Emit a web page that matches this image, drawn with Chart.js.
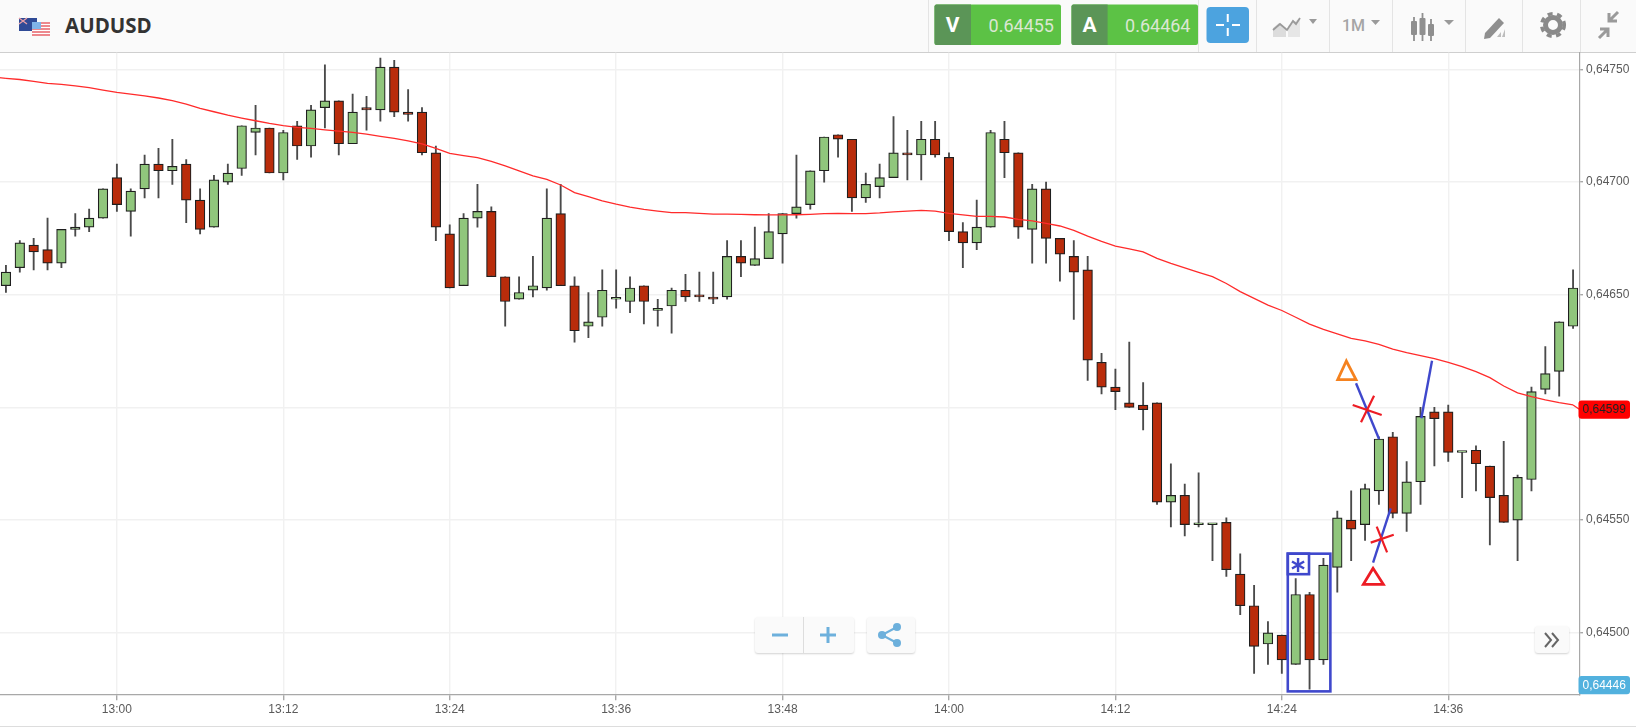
<!DOCTYPE html>
<html>
<head>
<meta charset="utf-8">
<title>AUDUSD</title>
<script src="https://cdn.jsdelivr.net/npm/chart.js@4/dist/chart.umd.js"></script>
<style>
  html, body { margin: 0; padding: 0; width: 1636px; height: 728px; overflow: hidden; background: #fff; }
  #myChart { position: absolute; left: -1px; top: 52px; }
  #header { position: absolute; left: 0; top: 0; }
  #bottomLine { position: absolute; left: 0; top: 726px; width: 1636px; height: 1px; background: #ddd; }
  .btn { position: absolute; background: #fafafa; border-radius: 3px; box-shadow: 0 1px 2px rgba(0, 0, 0, 0.18); }
</style>
</head>
<body>
<svg id="header" width="1636" height="53" font-family="Roboto, 'Open Sans', sans-serif">
  <rect width="1636" height="52" fill="#fafafa"/>
  <rect y="52" width="1636" height="1.3" fill="#cfcfcf"/>
  <!-- flags -->
  <rect x="19" y="18" width="18" height="13" fill="#2f4a96"/>
  <path d="M19 18l8 6M27 18l-8 6" stroke="#e8a0a8" stroke-width="1.3"/>
  <circle cx="33" cy="27" r="1" fill="#fff"/>
  <rect x="32" y="22" width="18" height="13.5" fill="#fff"/>
  <path d="M32 23h18M32 26h18M32 29h18M32 32h18M32 35h18" stroke="#e8636a" stroke-width="1.5"/>
  <rect x="32" y="22" width="9" height="7" fill="#7fb3e8"/>
  <text x="65" y="33" font-family="'Open Sans'" font-weight="700" font-size="20.5" fill="#333">AUDUSD</text>
  <!-- separators -->
  <path d="M928.5 0v52M1198.5 0v52M1256.5 0v52M1329.5 0v52M1392.5 0v52M1465.5 0v52M1522.5 0v52M1580.5 0v52" stroke="#e4e4e4"/>
  <!-- prices -->
  <rect x="934.5" y="4.5" width="126.5" height="40.5" rx="2" fill="#5cc245"/>
  <path d="M936.5 4.5H971V45H936.5a2 2 0 0 1-2-2V6.500a2 2 0 0 1 2-2z" fill="#5b9557"/>
  <text x="952.500" y="32" text-anchor="middle" font-weight="700" font-size="21" fill="#fff">V</text>
  <text x="1054" y="31.500" text-anchor="end" font-size="18" fill="#dbe7d3">0.64455</text>
  <rect x="1071.5" y="4.5" width="126.5" height="40.5" rx="2" fill="#5cc245"/>
  <path d="M1073.5 4.5H1107.6V45H1073.5a2 2 0 0 1-2-2V6.500a2 2 0 0 1 2-2z" fill="#5b9557"/>
  <text x="1089.5" y="32" text-anchor="middle" font-weight="700" font-size="21" fill="#fff">A</text>
  <text x="1190.5" y="31.500" text-anchor="end" font-size="18" fill="#dbe7d3">0.64464</text>
  <!-- crosshair button -->
  <rect x="1206.5" y="7" width="42.500" height="36" rx="4" fill="#4ca3df"/>
  <path d="M1227.75 14v8M1227.75 28v8M1216 25h8M1232 25h8" stroke="#fff" stroke-width="2"/>
  <!-- chart type -->
  <path d="M1273 37V28l6-5 7 5v9z" fill="#dcdcdc"/>
  <path d="M1288 37V26l12-8v19z" fill="#e6e6e6"/>
  <path d="M1273 30l7-6 7 6 6-9 3 3 4-6" fill="none" stroke="#9a9a9a" stroke-width="1.8"/>
  <path d="M1309 19h8l-4 5z" fill="#9a9a9a"/>
  <!-- period -->
  <text x="1342" y="31" font-size="16" font-weight="500" fill="#a5a5a5">1M</text>
  <path d="M1371 20h9l-4.500 5z" fill="#9a9a9a"/>
  <!-- candles -->
  <path d="M1414 17v24M1422.500 13v28M1431 19v22" stroke="#8f8f8f" stroke-width="1.800"/>
  <rect x="1411" y="21" width="6" height="14" rx="1" fill="#8f8f8f"/>
  <rect x="1419.5" y="18" width="6" height="17" rx="1" fill="#8f8f8f"/>
  <rect x="1428" y="24" width="6" height="12" rx="1" fill="#8f8f8f"/>
  <path d="M1444 20h10l-5 5z" fill="#9a9a9a"/>
  <!-- draw tool -->
  <path d="M1485 33l14-15 5 5-14 15-6 1z" fill="#8f8f8f"/>
  <path d="M1497 37l4-5v5zM1502 37l3-8v8z" fill="#bdbdbd"/>
  <!-- gear -->
  <circle cx="1553" cy="25" r="7.500" fill="none" stroke="#8a8a8a" stroke-width="5"/>
  <circle cx="1553" cy="25" r="11.300" fill="none" stroke="#8a8a8a" stroke-width="3.500" stroke-dasharray="5 4.500"/>
  <!-- compress -->
  <path d="M1609 21l9-9M1609 13v8h8M1608 29l-9 9M1608 37v-8h-8" fill="none" stroke="#9a9a9a" stroke-width="3"/>
</svg>
<canvas id="myChart" width="1637" height="674"></canvas>
<div id="bottomLine"></div>

<!-- Zoom and share buttons -->
<div class="btn" style="left:755px;top:617px;width:99px;height:36px"></div>
<div class="btn" style="left:867px;top:617px;width:48px;height:36px"></div>
<div class="btn" style="left:1535px;top:626px;width:34px;height:27px"></div>
<svg style="position:absolute;left:0;top:600px" width="1636" height="60">
  <path d="M803.5 17v36" stroke="#ddd"/>
  <path d="M772 35h16M820 35h16M828 27v16" stroke="#6db0dc" stroke-width="3"/>
  <circle cx="882" cy="35" r="4" fill="#6db0dc"/>
  <circle cx="897" cy="27" r="4" fill="#6db0dc"/>
  <circle cx="897" cy="43" r="4" fill="#6db0dc"/>
  <path d="M882 35l15-8M882 35l15 8" stroke="#6db0dc" stroke-width="2"/>
  <path d="M1545 33l6 7-6 7M1552 33l6 7-6 7" fill="none" stroke="#666" stroke-width="2"/>
</svg>

<script>
// Candle times, one per minute.
const times = [
  '12:52', '12:53', '12:54', '12:55', '12:56', '12:57', '12:58', '12:59',
  '13:00', '13:01', '13:02', '13:03', '13:04', '13:05', '13:06', '13:07', '13:08', '13:09', '13:10', '13:11',
  '13:12', '13:13', '13:14', '13:15', '13:16', '13:17', '13:18', '13:19', '13:20', '13:21', '13:22', '13:23',
  '13:24', '13:25', '13:26', '13:27', '13:28', '13:29', '13:30', '13:31', '13:32', '13:33', '13:34', '13:35',
  '13:36', '13:37', '13:38', '13:39', '13:40', '13:41', '13:42', '13:43', '13:44', '13:45', '13:46', '13:47',
  '13:48', '13:49', '13:50', '13:51', '13:52', '13:53', '13:54', '13:55', '13:56', '13:57', '13:58', '13:59',
  '14:00', '14:01', '14:02', '14:03', '14:04', '14:05', '14:06', '14:07', '14:08', '14:09', '14:10', '14:11',
  '14:12', '14:13', '14:14', '14:15', '14:16', '14:17', '14:18', '14:19', '14:20', '14:21', '14:22', '14:23',
  '14:24', '14:25', '14:26', '14:27', '14:28', '14:29', '14:30', '14:31', '14:32', '14:33', '14:34', '14:35',
  '14:36', '14:37', '14:38', '14:39', '14:40', '14:41', '14:42', '14:43', '14:44', '14:45',
];

// Labels shown under the x axis.
const timeTicks = ['13:00', '13:12', '13:24', '13:36', '13:48', '14:00', '14:12', '14:24', '14:36'];

// Labels shown on the price axis.
const priceTicks = [0.6475, 0.647, 0.6465, 0.646, 0.6455, 0.645];

const opens = [
  0.64654, 0.64662, 0.64672, 0.6467, 0.64664, 0.64679, 0.6468, 0.64684, 0.64702, 0.64687,
  0.64697, 0.64708, 0.64705, 0.64708, 0.64692, 0.6468, 0.647, 0.64706, 0.64722, 0.64724,
  0.64704, 0.64725, 0.64716, 0.64733, 0.64736, 0.64717, 0.64733, 0.64732, 0.64751, 0.64731,
  0.64731, 0.64713, 0.64677, 0.64654, 0.64684, 0.64687, 0.64658, 0.64648, 0.64652, 0.64653,
  0.64686, 0.64654, 0.64636, 0.6464, 0.64648, 0.64647, 0.64654, 0.64643, 0.64645, 0.64652,
  0.6465, 0.64649, 0.64649, 0.64667, 0.64663, 0.64666, 0.64677, 0.64686, 0.6469, 0.64705,
  0.64721, 0.64719, 0.64693, 0.64698, 0.64702, 0.64713, 0.64712, 0.64719, 0.64711, 0.64678,
  0.64673, 0.6468, 0.64719, 0.64713, 0.64679, 0.64697, 0.64675, 0.64667, 0.64661, 0.6462,
  0.64609, 0.64602, 0.64601, 0.64602, 0.64558, 0.64561, 0.64548, 0.64548, 0.64549, 0.64526,
  0.64512, 0.64495, 0.64499, 0.64486, 0.64517, 0.64488, 0.64529, 0.6455, 0.64548, 0.64563,
  0.64587, 0.64553, 0.64567, 0.64598, 0.64598, 0.6458, 0.64581, 0.64574, 0.64561, 0.6455,
  0.64568, 0.64608, 0.64616, 0.64636,
];

const closes = [
  0.6466, 0.64673, 0.64669, 0.64664, 0.64679, 0.6468, 0.64684, 0.64697, 0.6469, 0.64696,
  0.64708, 0.64705, 0.64707, 0.64692, 0.64679, 0.64701, 0.64704, 0.64725, 0.64724, 0.64704,
  0.64722, 0.64716, 0.64732, 0.64736, 0.64717, 0.64731, 0.64732, 0.64751, 0.64731, 0.6473,
  0.64713, 0.6468, 0.64653, 0.64684, 0.64687, 0.64658, 0.64647, 0.64651, 0.64654, 0.64684,
  0.64654, 0.64634, 0.64638, 0.64652, 0.64648, 0.64653, 0.64647, 0.64644, 0.64652, 0.64649,
  0.64649, 0.64648, 0.64667, 0.64664, 0.64666, 0.64678, 0.64686, 0.64689, 0.64705, 0.6472,
  0.64719, 0.64693, 0.64699, 0.64702, 0.64713, 0.64712, 0.64719, 0.64712, 0.64678, 0.64673,
  0.6468, 0.64722, 0.64713, 0.6468, 0.64697, 0.64675, 0.64668, 0.6466, 0.64621, 0.64609,
  0.64607, 0.646, 0.64599, 0.64558, 0.64561, 0.64548, 0.64548, 0.64548, 0.64528, 0.64512,
  0.64494, 0.645, 0.64488, 0.64517, 0.64488, 0.6453, 0.64551, 0.64546, 0.64564, 0.64586,
  0.64553, 0.64567, 0.64596, 0.64595, 0.6458, 0.6458, 0.64575, 0.6456, 0.64549, 0.64569,
  0.64607, 0.64615, 0.64638, 0.64653,
];

const highs = [
  0.64663, 0.64674, 0.64675, 0.64684, 0.64679, 0.64686, 0.64688, 0.64697, 0.64708, 0.64697,
  0.64712, 0.64715, 0.64719, 0.6471, 0.64697, 0.64703, 0.64708, 0.64725, 0.64734, 0.64724,
  0.64723, 0.64727, 0.64734, 0.64752, 0.64736, 0.64739, 0.64738, 0.64755, 0.64754, 0.64741,
  0.64733, 0.64716, 0.64681, 0.64686, 0.64699, 0.64689, 0.64658, 0.64658, 0.64667, 0.64697,
  0.64699, 0.64658, 0.64651, 0.64661, 0.64661, 0.64658, 0.64654, 0.64648, 0.64653, 0.64659,
  0.6466, 0.6466, 0.64674, 0.64674, 0.6468, 0.64686, 0.64686, 0.64712, 0.64705, 0.6472,
  0.64721, 0.64719, 0.64704, 0.64708, 0.64729, 0.64723, 0.64727, 0.64727, 0.64713, 0.64682,
  0.64692, 0.64723, 0.64727, 0.64713, 0.64699, 0.647, 0.64675, 0.64674, 0.64667, 0.64624,
  0.64617, 0.64629, 0.64611, 0.64602, 0.64575, 0.64566, 0.64571, 0.64548, 0.64551, 0.64535,
  0.64521, 0.64505, 0.64499, 0.64524, 0.64518, 0.64533, 0.64554, 0.64563, 0.64566, 0.64587,
  0.64589, 0.64576, 0.646, 0.646, 0.64601, 0.6458, 0.64583, 0.64574, 0.64585, 0.6457,
  0.64609, 0.64627, 0.64638, 0.64661,
];

const lows = [
  0.64651, 0.6466, 0.64661, 0.64661, 0.64662, 0.64676, 0.64678, 0.64684, 0.64687, 0.64676,
  0.64693, 0.64693, 0.64699, 0.64682, 0.64677, 0.6468, 0.64699, 0.64703, 0.64712, 0.64704,
  0.64701, 0.6471, 0.64711, 0.64724, 0.64712, 0.64717, 0.64723, 0.64727, 0.64729, 0.64727,
  0.64712, 0.64674, 0.64653, 0.64654, 0.6468, 0.64658, 0.64636, 0.64648, 0.64649, 0.64652,
  0.64654, 0.64629, 0.64631, 0.64636, 0.64644, 0.64642, 0.64637, 0.64636, 0.64633, 0.64647,
  0.64647, 0.64646, 0.64648, 0.64658, 0.64663, 0.64666, 0.64664, 0.64684, 0.64688, 0.647,
  0.64711, 0.64687, 0.64691, 0.64693, 0.64702, 0.64701, 0.64701, 0.64711, 0.64674, 0.64662,
  0.6467, 0.6468, 0.64702, 0.64675, 0.64664, 0.64664, 0.64656, 0.64639, 0.64612, 0.64606,
  0.64599, 0.646, 0.6459, 0.64557, 0.64547, 0.64543, 0.64547, 0.64532, 0.64525, 0.64508,
  0.64482, 0.64486, 0.64482, 0.64486, 0.64475, 0.64486, 0.64518, 0.64532, 0.64541, 0.64557,
  0.64551, 0.64545, 0.64557, 0.64574, 0.64576, 0.6456, 0.64563, 0.64539, 0.64549, 0.64532,
  0.64563, 0.64606, 0.64605, 0.64635,
];

// Moving average line.
const movingAverage = [
  0.64746, 0.647455, 0.647447, 0.647438, 0.647433, 0.647427, 0.647419, 0.647408, 0.647398, 0.64739,
  0.647382, 0.647373, 0.647361, 0.647346, 0.647327, 0.647312, 0.647297, 0.647284, 0.647272, 0.64726,
  0.64725, 0.647243, 0.647238, 0.647232, 0.647226, 0.64722, 0.647213, 0.647203, 0.647194, 0.647183,
  0.647169, 0.647149, 0.647127, 0.647117, 0.647108, 0.647092, 0.647072, 0.64705, 0.647027, 0.647012,
  0.646987, 0.646953, 0.646935, 0.646917, 0.646902, 0.646889, 0.646879, 0.646871, 0.646864, 0.646864,
  0.646861, 0.646858, 0.646858, 0.646857, 0.646855, 0.646854, 0.646854, 0.646855, 0.646857, 0.64686,
  0.646861, 0.64686, 0.64686, 0.646863, 0.646868, 0.646871, 0.646874, 0.646871, 0.646861, 0.646854,
  0.646848, 0.646848, 0.646845, 0.646834, 0.646828, 0.646817, 0.646805, 0.646786, 0.64676, 0.646737,
  0.646716, 0.646703, 0.64669, 0.646661, 0.646639, 0.646619, 0.646599, 0.64658, 0.64655, 0.646514,
  0.646484, 0.646454, 0.64643, 0.6464, 0.64637, 0.646346, 0.646326, 0.646306, 0.646295, 0.64628,
  0.646259, 0.646243, 0.64623, 0.646216, 0.6462, 0.646181, 0.646159, 0.646132, 0.646095, 0.646065,
  0.646048, 0.646033, 0.646021, 0.646011,
];

// Moving average value at the left edge and the value it reaches at the price axis.
const maAtLeftEdge = 0.647463;
const maAtAxis = 0.64599;

// Lowest visible price badge, pinned to the bottom of the axis.
const lowestPrice = 0.64446;

// Hand drawn marks, as [candle index, price] pairs.
const blueSegments = [
  [[97.35, 0.646107], [99.01, 0.64586]],
  [[99.85, 0.645552], [98.58, 0.645311]],
  [[102.06, 0.645952], [102.83, 0.646207]],
];
const redCrosses = [
  [[97.11, 0.646011], [99.2, 0.645966]],
  [[98.65, 0.646052], [97.71, 0.645934]],
  [[98.41, 0.6454], [100.07, 0.645435]],
  [[98.84, 0.645471], [99.59, 0.645357]],
];
const orangeTriangle = [[96.65, 0.646206], [96.03, 0.646123], [97.35, 0.646123]];
const redTriangle = [[98.58, 0.645286], [97.88, 0.645215], [99.32, 0.645215]];
const signalBox = [[92.43, 0.645351], [95.5, 0.64474]];
const signalTag = [[92.43, 0.645351], [93.96, 0.64526]];
const signalStar = [93.17, 0.645301];

// Body and wick ranges for the floating bars.
const bodies = opens.map((open, i) => [open, closes[i]]);
const wicks = lows.map((low, i) => [low, highs[i]]);
const bodyColors = opens.map((open, i) => (closes[i] >= open ? '#90c67c' : '#b92c0b'));

Chart.defaults.font.family = "'Liberation Sans', Arial, sans-serif";
Chart.defaults.font.size = 12;
Chart.defaults.color = '#5a5a5a';

function priceLabel(value) {
  return value.toFixed(5).replace('.', ',');
}

// Draws a small rounded price badge on the axis.
function drawBadge(ctx, area, y, text, fill, textColor) {
  ctx.fillStyle = fill;
  ctx.beginPath();
  ctx.roundRect(area.right - 1.5, y - 9.2, 51.5, 18.4, 3);
  ctx.fill();
  ctx.fillStyle = textColor;
  ctx.textAlign = 'center';
  ctx.textBaseline = 'middle';
  ctx.font = "12px 'Liberation Sans'";
  ctx.fillText(text, area.right + 24.2, y + 0.5);
}

// Moving average ends, hand drawn marks and axis badges.
const overlayPlugin = {
  id: 'overlay',
  afterDatasetsDraw(chart) {
    const ctx = chart.ctx;
    const area = chart.chartArea;
    const xs = chart.scales.x;
    const ys = chart.scales.y;
    const px = (p) => [xs.getPixelForValue(p[0]), ys.getPixelForValue(p[1])];

    function stroke(points, color, width, closed) {
      ctx.strokeStyle = color;
      ctx.lineWidth = width;
      ctx.lineJoin = 'miter';
      ctx.beginPath();
      points.forEach((p, i) => {
        const q = px(p);
        if (i === 0) ctx.moveTo(q[0], q[1]);
        else ctx.lineTo(q[0], q[1]);
      });
      if (closed) ctx.closePath();
      ctx.stroke();
    }

    ctx.save();

    // Line runs on to both edges of the plot.
    ctx.strokeStyle = '#ff2b2b';
    ctx.lineWidth = 1.3;
    ctx.beginPath();
    ctx.moveTo(area.left, ys.getPixelForValue(maAtLeftEdge));
    ctx.lineTo(xs.getPixelForValue(0), ys.getPixelForValue(movingAverage[0]));
    ctx.moveTo(xs.getPixelForValue(times.length - 1), ys.getPixelForValue(movingAverage[times.length - 1]));
    ctx.lineTo(area.right, ys.getPixelForValue(maAtAxis));
    ctx.stroke();

    // Signal box with its tag.
    const boxA = px(signalBox[0]);
    const boxB = px(signalBox[1]);
    ctx.strokeStyle = '#3f48cc';
    ctx.lineWidth = 2.6;
    ctx.strokeRect(boxA[0], boxA[1], boxB[0] - boxA[0], boxB[1] - boxA[1]);
    const tagB = px(signalTag[1]);
    ctx.strokeRect(boxA[0], boxA[1], tagB[0] - boxA[0], tagB[1] - boxA[1]);

    // Asterisk in the tag.
    const star = px(signalStar);
    ctx.lineWidth = 2.4;
    ctx.beginPath();
    for (let a = 0; a < 3; a++) {
      const angle = Math.PI / 2 + (a * Math.PI) / 3;
      ctx.moveTo(star[0] - 7 * Math.cos(angle), star[1] - 7 * Math.sin(angle));
      ctx.lineTo(star[0] + 7 * Math.cos(angle), star[1] + 7 * Math.sin(angle));
    }
    ctx.stroke();

    blueSegments.forEach((s) => stroke(s, '#3f48cc', 2.4));
    redCrosses.forEach((s) => stroke(s, '#ed1c24', 2.2));
    stroke(orangeTriangle, '#f5821f', 2.8, true);
    stroke(redTriangle, '#ed1c24', 2.8, true);

    ctx.restore();
  },
  afterDraw(chart) {
    const ctx = chart.ctx;
    const area = chart.chartArea;
    const ys = chart.scales.y;
    ctx.save();
    drawBadge(ctx, area, ys.getPixelForValue(maAtAxis), priceLabel(maAtAxis), '#ff0000', '#222');
    const lowY = Math.min(ys.getPixelForValue(lowestPrice), area.bottom - 9.2);
    drawBadge(ctx, area, lowY, priceLabel(lowestPrice), '#52b1de', '#fff');
    ctx.restore();
  },
};

// Chart config.
const config = {
  type: 'bar',
  data: {
    labels: times,
    datasets: [
      {
        type: 'line',
        data: movingAverage,
        borderColor: '#ff2b2b',
        borderWidth: 1.3,
        pointRadius: 0,
        tension: 0,
        order: 0,
      },
      {
        data: bodies,
        backgroundColor: bodyColors,
        borderColor: '#1f1f1f',
        borderWidth: 1.2,
        borderSkipped: false,
        barThickness: 9.6,
        minBarLength: 1.8,
        grouped: false,
        order: 1,
      },
      {
        data: wicks,
        backgroundColor: '#4a4a4a',
        barThickness: 1.2,
        grouped: false,
        order: 2,
      },
    ],
  },
  options: {
    responsive: false,
    animation: false,
    layout: { autoPadding: false, padding: { top: 0.7 } },
    plugins: { legend: { display: false }, tooltip: { enabled: false } },
    scales: {
      x: {
        offset: true,
        grid: { offset: false, color: '#f1f1f1', lineWidth: 1.4, tickColor: '#a8a8a8', tickLength: 6 },
        border: { color: '#a8a8a8', width: 1.2 },
        ticks: { autoSkip: false, maxRotation: 0, padding: 2 },
        afterBuildTicks: (scale) => {
          scale.ticks = scale.ticks.filter((t) => timeTicks.includes(times[t.value]));
        },
        afterFit: (scale) => {
          scale.height = 31.7;
          scale.paddingLeft = 0;
          scale.paddingRight = 0;
        },
      },
      y: {
        position: 'right',
        min: 0.644727,
        max: 0.647574,
        grid: { color: '#f1f1f1', lineWidth: 1.4, tickColor: '#a8a8a8', tickLength: 3 },
        border: { color: '#a8a8a8', width: 1.2 },
        ticks: { padding: 3, callback: priceLabel },
        afterBuildTicks: (scale) => {
          scale.ticks = priceTicks.map((value) => ({ value }));
        },
        afterFit: (scale) => {
          scale.width = 56;
          // Labels near the plot top may not push the plot down.
          scale.paddingTop = 0;
          scale.paddingBottom = 0;
        },
      },
    },
  },
  plugins: [overlayPlugin],
};

const chart = new Chart(document.getElementById('myChart'), config);
</script>
</body>
</html>
